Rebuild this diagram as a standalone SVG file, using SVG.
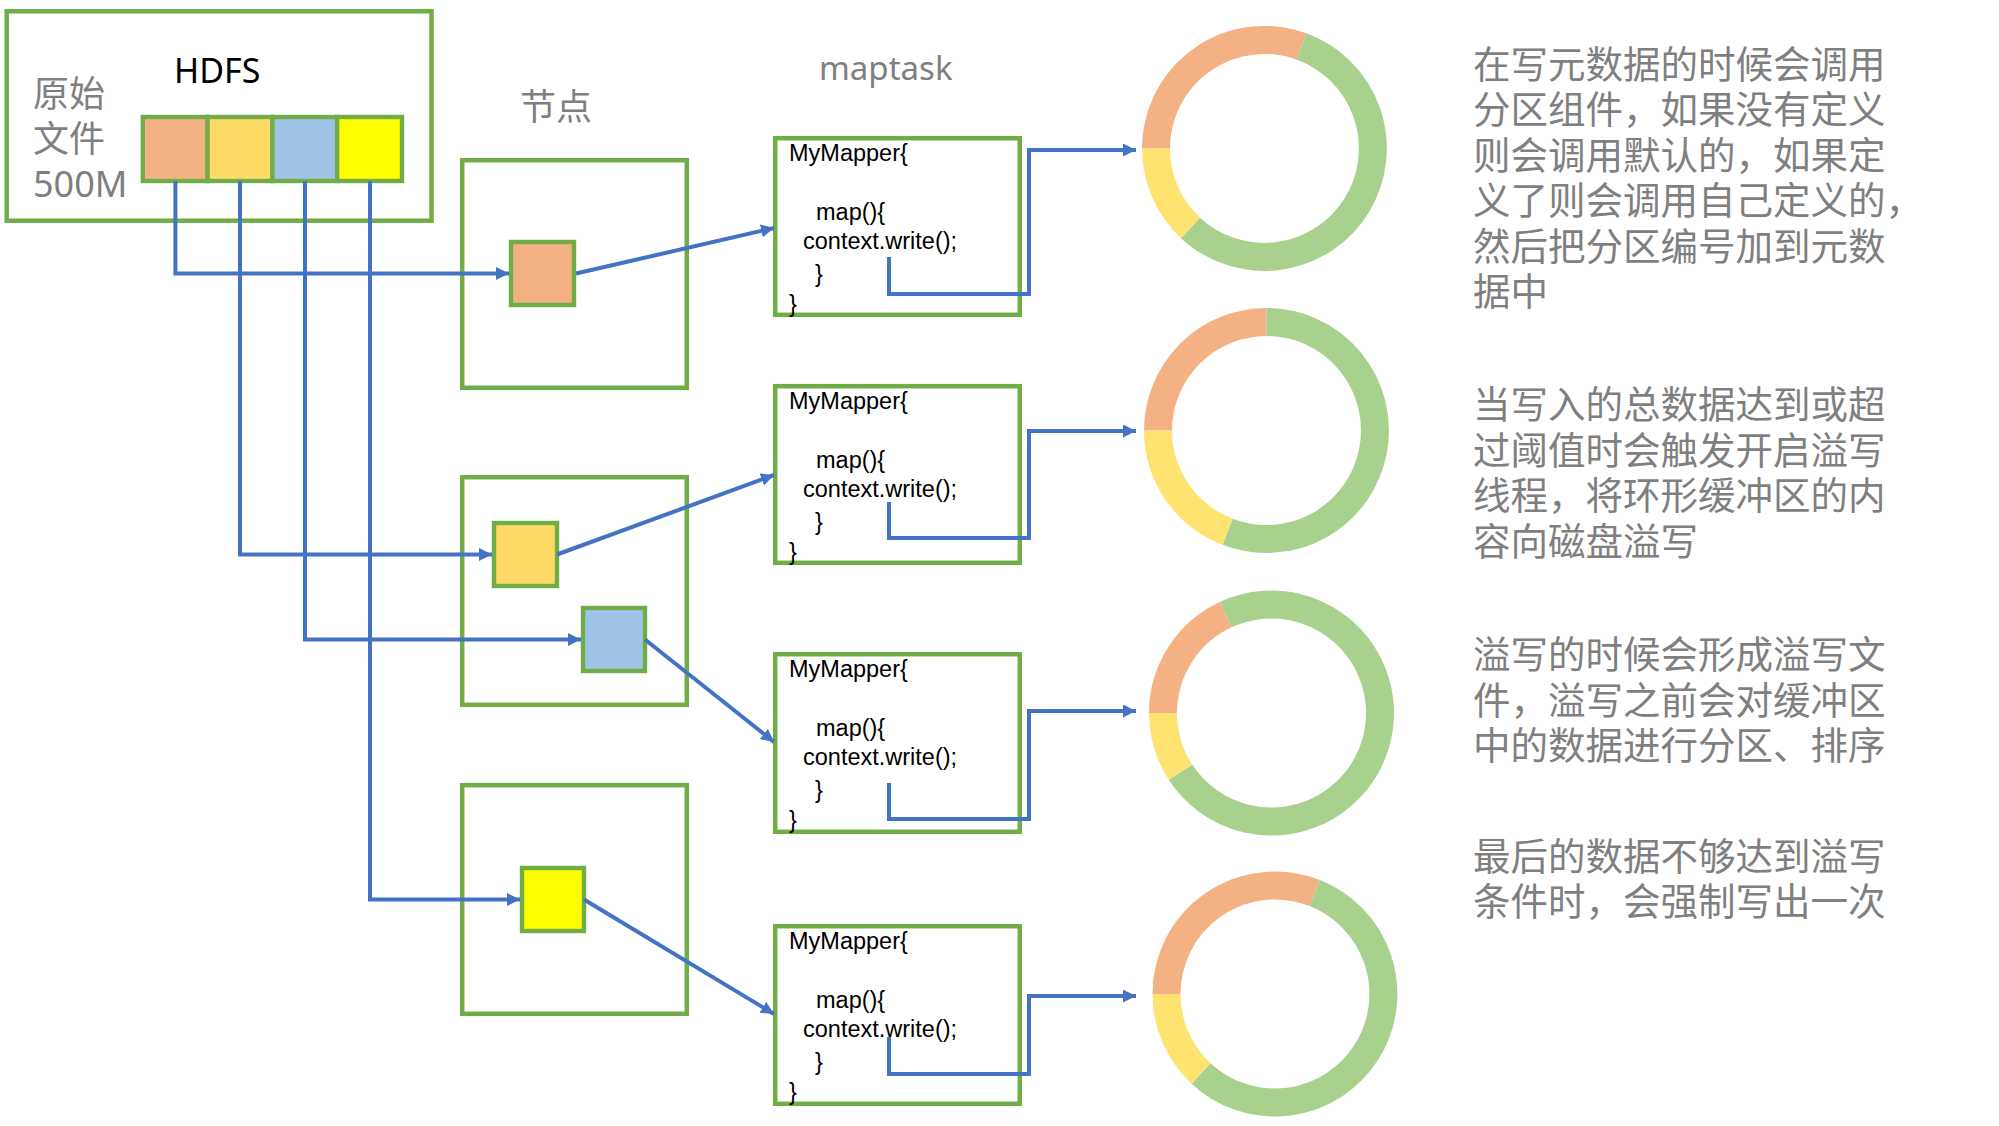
<svg xmlns="http://www.w3.org/2000/svg" width="1999" height="1126" viewBox="0 0 1999 1126">
<style>
.box{fill:none;stroke:#70AD47;stroke-width:4.5}
.cell{stroke:#70AD47;stroke-width:4.4}
.wire{fill:none;stroke:#4472C4;stroke-width:4}
.arr{marker-end:url(#ah)}
.gray{fill:#7F7F7F;font-family:"Noto Sans","Noto Sans CJK SC",sans-serif}
.cjk{fill:#7F7F7F;font-family:"Noto Sans CJK SC","Noto Sans",sans-serif;font-size:37.5px}
.code{fill:#000;font-family:"Liberation Sans",Arial,sans-serif;font-size:23.5px}
.seg{fill:none;stroke-width:28}
.o{stroke:#F4B183}.y{stroke:#FFE370}.g{stroke:#A9D18E}
</style>
<defs>
<marker id="ah" markerUnits="userSpaceOnUse" markerWidth="14" markerHeight="14" refX="13" refY="6.5" orient="auto">
<path d="M0,0 L13,6.5 L0,13 z" fill="#4472C4"/>
</marker>
</defs>
<rect width="1999" height="1126" fill="#fff"/>

<g id="hdfs">
<rect class="box" x="6.7" y="11.3" width="424.8" height="209.4"/>
<text x="174" y="83" style="font-family:'Noto Sans',sans-serif;font-size:34px;fill:#000">HDFS</text>
<text class="gray" x="33" y="107" style="font-family:'Noto Sans CJK SC',sans-serif;font-size:36px">原始</text>
<text class="gray" x="33" y="152" style="font-family:'Noto Sans CJK SC',sans-serif;font-size:36px">文件</text>
<text class="gray" x="33" y="197" style="font-size:36px">500M</text>
<rect class="cell" x="142.8" y="117" width="64.8" height="64" fill="#F4B183"/>
<rect class="cell" x="207.6" y="117" width="64.8" height="64" fill="#FFD966"/>
<rect class="cell" x="272.4" y="117" width="64.8" height="64" fill="#9DC3E6"/>
<rect class="cell" x="337.2" y="117" width="64.8" height="64" fill="#FFFF00"/>
</g>

<text id="label-node" class="gray" x="520" y="120" style="font-family:'Noto Sans CJK SC',sans-serif;font-size:36px">节点</text>
<text id="label-maptask" class="gray" x="819" y="80" style="font-size:33px">maptask</text>

<g id="node1">
<rect class="box" x="462.2" y="160.2" width="224.6" height="227.6"/>
<rect class="cell" x="511" y="242" width="63" height="63" fill="#F4B183"/>
</g>
<g id="node2">
<rect class="box" x="462.2" y="477.2" width="224.6" height="227.6"/>
<rect class="cell" x="494" y="523" width="63" height="63" fill="#FFD966"/>
<rect class="cell" x="583" y="608" width="62" height="63" fill="#9DC3E6"/>
</g>
<g id="node3">
<rect class="box" x="462.2" y="785.2" width="224.6" height="228.6"/>
<rect class="cell" x="522" y="868" width="62" height="63" fill="#FFFF00"/>
</g>

<g id="mapper1">
<rect class="box" x="775.2" y="138.2" width="244.6" height="176.6"/>
<text class="code" x="789" y="160.5">MyMapper{</text>
<text class="code" x="816" y="220">map(){</text>
<text class="code" x="803" y="249">context.write();</text>
<text class="code" x="815" y="282">}</text>
<text class="code" x="789" y="312">}</text>
</g>
<g id="mapper2">
<rect class="box" x="775.2" y="386.2" width="244.6" height="176.6"/>
<text class="code" x="789" y="408.5">MyMapper{</text>
<text class="code" x="816" y="468">map(){</text>
<text class="code" x="803" y="497">context.write();</text>
<text class="code" x="815" y="530">}</text>
<text class="code" x="789" y="560">}</text>
</g>
<g id="mapper3">
<rect class="box" x="775.2" y="654.2" width="244.6" height="177.6"/>
<text class="code" x="789" y="676.5">MyMapper{</text>
<text class="code" x="816" y="736">map(){</text>
<text class="code" x="803" y="765">context.write();</text>
<text class="code" x="815" y="798">}</text>
<text class="code" x="789" y="828">}</text>
</g>
<g id="mapper4">
<rect class="box" x="775.2" y="926.2" width="244.6" height="177.6"/>
<text class="code" x="789" y="948.5">MyMapper{</text>
<text class="code" x="816" y="1008">map(){</text>
<text class="code" x="803" y="1037">context.write();</text>
<text class="code" x="815" y="1070">}</text>
<text class="code" x="789" y="1100">}</text>
</g>

<g id="ring1">
<path class="seg o" d="M1156,148.5 A108.5,108.5 0 0 1 1301.6,46.5"/>
<path class="seg g" d="M1301.6,46.5 A108.5,108.5 0 1 1 1190.5,227.9"/>
<path class="seg y" d="M1190.5,227.9 A108.5,108.5 0 0 1 1156,148.5"/>
</g>
<g id="ring2">
<path class="seg o" d="M1158,430.5 A108.5,108.5 0 0 1 1266.5,322"/>
<path class="seg g" d="M1266.5,322 A108.5,108.5 0 1 1 1227.6,531.8"/>
<path class="seg y" d="M1227.6,531.8 A108.5,108.5 0 0 1 1158,430.5"/>
</g>
<g id="ring3">
<path class="seg o" d="M1163,713 A108.5,108.5 0 0 1 1225.65,614.67"/>
<path class="seg g" d="M1225.65,614.67 A108.5,108.5 0 1 1 1180.5,772.1"/>
<path class="seg y" d="M1180.5,772.1 A108.5,108.5 0 0 1 1163,713"/>
</g>
<g id="ring4">
<path class="seg o" d="M1166.5,994 A108.5,108.5 0 0 1 1314.8,893.05"/>
<path class="seg g" d="M1314.8,893.05 A108.5,108.5 0 1 1 1201,1073.4"/>
<path class="seg y" d="M1201,1073.4 A108.5,108.5 0 0 1 1166.5,994"/>
</g>

<g id="connectors">
<path class="wire arr" d="M175.4,181 V273.5 H509"/>
<path class="wire arr" d="M240,181 V554.5 H492"/>
<path class="wire arr" d="M305,181 V639.5 H581"/>
<path class="wire arr" d="M370,181 V899.5 H520"/>
<path class="wire arr" d="M576,273.5 L774,228"/>
<path class="wire arr" d="M557,554.5 L774,475"/>
<path class="wire arr" d="M645,639.5 L774,742"/>
<path class="wire arr" d="M584,899.5 L774,1014"/>
<path class="wire arr" d="M889,257 V294 H1029 V150 H1136"/>
<path class="wire arr" d="M889,502 V538 H1029 V431 H1136"/>
<path class="wire arr" d="M889,783 V819 H1029 V711 H1136"/>
<path class="wire arr" d="M889,1037 V1074 H1029 V996 H1136"/>
</g>

<g id="note1" class="cjk">
<text x="1473" y="77.5">在写元数据的时候会调用</text>
<text x="1473" y="123">分区组件，如果没有定义</text>
<text x="1473" y="168.5">则会调用默认的，如果定</text>
<text x="1473" y="214">义了则会调用自己定义的，</text>
<text x="1473" y="259.5">然后把分区编号加到元数</text>
<text x="1473" y="305">据中</text>
</g>
<g id="note2" class="cjk">
<text x="1473" y="418">当写入的总数据达到或超</text>
<text x="1473" y="463.5">过阈值时会触发开启溢写</text>
<text x="1473" y="509">线程，将环形缓冲区的内</text>
<text x="1473" y="554.5">容向磁盘溢写</text>
</g>
<g id="note3" class="cjk">
<text x="1473" y="668">溢写的时候会形成溢写文</text>
<text x="1473" y="713.5">件，溢写之前会对缓冲区</text>
<text x="1473" y="759">中的数据进行分区、排序</text>
</g>
<g id="note4" class="cjk">
<text x="1473" y="870">最后的数据不够达到溢写</text>
<text x="1473" y="915">条件时，会强制写出一次</text>
</g>
</svg>
